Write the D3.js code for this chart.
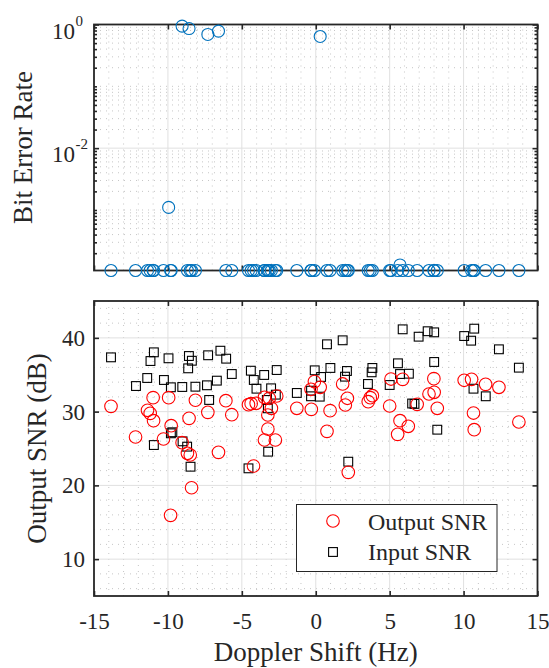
<!DOCTYPE html>
<html>
<head>
<meta charset="utf-8">
<script src="https://cdn.jsdelivr.net/npm/d3@7"></script>
<style>
  html, body { margin: 0; padding: 0; background: #fff; }
  svg { display: block; font-family: "Liberation Serif", "Times New Roman", serif; }
</style>
</head>
<body>
<div id="chart"></div>
<script>
// ---- data ----
// trials: doppler shift, output SNR and BER (0 = no bit errors, drawn on the floor)
const dopplerOut = [-13.85,-12.19,-11.38,-11.2,-11.0,-10.97,-10.3,-9.95,-9.82,-9.78,
  -9.04,-8.68,-8.57,-8.49,-8.4,-8.14,-7.3,-6.58,-6.08,-5.68,
  -4.55,-4.37,-4.21,-4.03,-3.47,-3.47,-3.24,-3.24,-3.14,-3.0,
  -2.73,-2.64,-1.28,-0.32,-0.3,-0.09,0.3,0.76,0.97,1.82,
  2.0,2.14,2.2,3.55,3.69,3.83,5.0,5.09,5.54,5.7,
  5.88,6.26,6.86,7.66,7.99,8.01,8.22,10.04,10.54,10.67,
  10.72,11.49,12.39,13.74];
const outputSNR = [30.72,26.56,30.18,29.77,31.89,28.77,26.29,31.89,15.94,28.09,
  25.79,24.35,29.09,24.12,19.68,31.54,29.9,24.48,31.48,29.58,
  30.94,31.08,22.63,31.13,31.94,26.15,29.54,27.64,31.81,30.45,
  26.15,32.12,30.45,33.03,30.31,34.07,33.3,27.33,30.13,33.75,
  30.9,31.81,21.77,31.35,31.89,32.16,30.76,34.42,26.92,28.77,
  34.38,28.01,30.99,32.39,34.47,32.62,30.45,34.25,34.38,29.81,
  27.55,33.7,33.3,28.59];
const ber = [0,0,0,0,0,0,0,1.1e-3,0,0,
  0.94,0,0.86,0,0,0,0.69,0.78,0,0,
  0,0,0,0,0,0,0,0,0,0,
  0,0,0,0,0,0,0.64,0,0,0,
  0,0,0,0,0,0,0,0,0,1.29e-4,
  0,0,0,0,0,0,0,0,0,0,
  0,0,0,0];

const dopplerIn = [-13.85,-12.16,-11.4,-11.18,-10.95,-10.95,-10.27,-9.96,-9.8,-9.8,
  -9.7,-9.03,-9.01,-8.7,-8.63,-8.58,-8.47,-8.38,-8.14,-7.36,
  -7.28,-7.21,-6.69,-6.45,-6.06,-5.68,-4.55,-4.39,-4.19,-4.01,
  -3.49,-3.31,-3.24,-3.22,-3.02,-2.7,-2.64,-1.28,-0.32,-0.32,
  -0.07,0.27,0.36,0.76,0.99,1.82,1.98,2.11,2.2,3.53,
  3.78,3.83,5.0,5.56,5.7,5.88,6.3,6.52,6.68,6.96,
  7.57,8.01,8.01,8.22,10.04,10.51,10.67,10.72,11.5,12.39,
  13.74];
const inputSNR = [37.36,33.47,34.56,36.86,38.04,25.47,34.29,37.23,33.3,27.06,
  27.2,33.34,25.97,25.25,35.87,37.54,22.53,36.9,33.38,33.57,
  37.64,31.58,34.2,38.26,37.18,35.1,22.31,35.55,34.29,33.11,
  34.97,31.58,30.45,24.57,33.16,32.3,35.64,32.53,32.84,32.08,
  35.6,32.03,34.7,39.13,35.92,39.67,34.74,35.51,23.21,33.75,
  35.33,35.92,33.61,36.55,35.1,41.16,35.14,31.1,31.05,40.16,
  40.9,40.75,36.73,27.55,40.25,39.62,33.11,41.25,32.08,38.45,
  35.96];

const xTicks = [-15, -10, -5, 0, 5, 10, 15];
const snrTicks = [10, 20, 30, 40];
const berTicks = [1, 1e-2];
const berTickExp = ["0", "-2"];
const berFloor = 1.05e-4;
const legendLabels = ["Output SNR", "Input SNR"];

// ---- layout ----
const W = 549, H = 668;
const L = 94, R = 537.5;
const top1 = 24.5, bot1 = 270.5;
const top2 = 301, bot2 = 596;
const AX = "#262626", MAJ = "#e0e0e0", MIN = "#c6c6c6";
const TICK_FS = 23, LABEL_FS = 27, LEG_FS = 24;
const FONT = '"Liberation Serif","Times New Roman",serif';

const svg = d3.select("#chart").append("svg").attr("width", W).attr("height", H);

const x = d3.scaleLinear().domain([-15, 15]).range([L, R]);
const yBer = d3.scaleLog().domain([berFloor, 1]).range([bot1, top1]);
const ySnr = d3.scaleLinear().domain([5, 45]).range([bot2, top2]);

const xMinor = d3.range(-14, 15).filter(v => v % 5 !== 0);
const snrMinor = d3.range(6, 45, 2).filter(v => v % 10 !== 0);
const berMinor = [];
for (let e = -4; e <= -1; e++) for (let m = 1; m <= 9; m++) {
  const v = m * Math.pow(10, e);
  if (v >= berFloor && !(e === -2 && m === 1)) berMinor.push(v);
}

function grid(g, y, yLo, yHi, xMaj, yMaj, yMin) {
  const gg = g.append("g");
  gg.selectAll("line.xmin").data(xMinor).enter().append("line")
    .attr("x1", d => x(d)).attr("x2", d => x(d)).attr("y1", yLo).attr("y2", yHi)
    .attr("stroke", MIN).attr("stroke-dasharray", "1,5").attr("stroke-width", 1);
  gg.selectAll("line.ymin").data(yMin).enter().append("line")
    .attr("x1", L).attr("x2", R).attr("y1", d => y(d)).attr("y2", d => y(d))
    .attr("stroke", MIN).attr("stroke-dasharray", "1,5").attr("stroke-width", 1);
  gg.selectAll("line.xmaj").data(xMaj).enter().append("line")
    .attr("x1", d => x(d)).attr("x2", d => x(d)).attr("y1", yLo).attr("y2", yHi)
    .attr("stroke", MAJ).attr("stroke-width", 1);
  gg.selectAll("line.ymaj").data(yMaj).enter().append("line")
    .attr("x1", L).attr("x2", R).attr("y1", d => y(d)).attr("y2", d => y(d))
    .attr("stroke", MAJ).attr("stroke-width", 1);
}

function frame(g, y, yLo, yHi, yVals, yMinVals) {
  // inward ticks on all four sides
  const t = 5, tm = 3;
  g.append("g").attr("transform", `translate(0,${yLo})`)
    .call(d3.axisBottom(x).tickValues(xTicks).tickSizeInner(-t).tickSizeOuter(0).tickFormat(""));
  g.append("g").attr("transform", `translate(0,${yHi})`)
    .call(d3.axisTop(x).tickValues(xTicks).tickSizeInner(-t).tickSizeOuter(0).tickFormat(""));
  g.append("g").attr("transform", `translate(${L},0)`)
    .call(d3.axisLeft(y).tickValues(yVals).tickSizeInner(-t).tickSizeOuter(0).tickFormat(""));
  g.append("g").attr("transform", `translate(${R},0)`)
    .call(d3.axisRight(y).tickValues(yVals).tickSizeInner(-t).tickSizeOuter(0).tickFormat(""));
  if (yMinVals) {
    g.append("g").attr("transform", `translate(${L},0)`)
      .call(d3.axisLeft(y).tickValues(yMinVals).tickSizeInner(-tm).tickSizeOuter(0).tickFormat(""));
    g.append("g").attr("transform", `translate(${R},0)`)
      .call(d3.axisRight(y).tickValues(yMinVals).tickSizeInner(-tm).tickSizeOuter(0).tickFormat(""));
  }
  g.selectAll(".domain").remove();
  g.selectAll(".tick line").attr("stroke", AX).attr("stroke-width", 1.6);
  g.append("rect").attr("x", L).attr("y", yHi).attr("width", R - L).attr("height", yLo - yHi)
    .attr("fill", "none").attr("stroke", AX).attr("stroke-width", 1.8);
}

// ---------- top panel: BER ----------
const g1 = svg.append("g");
grid(g1, yBer, bot1, top1, xTicks.slice(1, -1), [1e-2], berMinor);
frame(g1, yBer, bot1, top1, berTicks, berMinor);

const berLab = g1.append("g").attr("fill", AX);
berTicks.forEach((v, i) => {
  berLab.append("text").attr("x", 75).attr("y", yBer(v) + 14)
    .attr("text-anchor", "end").attr("font-size", TICK_FS).text("10");
  berLab.append("text").attr("x", 75.5).attr("y", yBer(v) + 1)
    .attr("font-size", 15).text(berTickExp[i]);
});

const berPts = dopplerOut.map((d, i) => ({ x: d, v: ber[i] > 0 ? ber[i] : berFloor }));
g1.append("g").selectAll("circle").data(berPts).enter().append("circle")
  .attr("cx", d => x(d.x)).attr("cy", d => yBer(d.v)).attr("r", 6)
  .attr("fill", "none").attr("stroke", "#0072BD").attr("stroke-width", 1.1);

g1.append("text").attr("transform", `translate(32,${(top1 + bot1) / 2}) rotate(-90)`)
  .attr("text-anchor", "middle").attr("font-size", LABEL_FS).attr("fill", AX)
  .text("Bit Error Rate");

// ---------- bottom panel: SNR ----------
const g2 = svg.append("g");
grid(g2, ySnr, bot2, top2, xTicks.slice(1, -1), snrTicks, snrMinor);
frame(g2, ySnr, bot2, top2, snrTicks, null);

g2.append("g").attr("transform", `translate(0,${bot2})`)
  .call(d3.axisBottom(x).tickValues(xTicks).tickSize(0).tickPadding(17).tickFormat(d => String(d)))
  .call(a => a.select(".domain").remove())
  .selectAll("text").attr("font-size", TICK_FS).attr("fill", AX).attr("font-family", FONT);

g2.append("g").attr("transform", `translate(${L},0)`)
  .call(d3.axisLeft(ySnr).tickValues(snrTicks).tickSize(0).tickPadding(9).tickFormat(d => String(d)))
  .call(a => a.select(".domain").remove())
  .selectAll("text").attr("font-size", TICK_FS).attr("fill", AX).attr("font-family", FONT);

g2.append("g").selectAll("rect").data(dopplerIn).enter().append("rect")
  .attr("x", (d) => x(d) - 4.4).attr("y", (d, i) => ySnr(inputSNR[i]) - 4.4)
  .attr("width", 8.8).attr("height", 8.8)
  .attr("fill", "none").attr("stroke", "#000").attr("stroke-width", 1.1);

g2.append("g").selectAll("circle").data(dopplerOut).enter().append("circle")
  .attr("cx", d => x(d)).attr("cy", (d, i) => ySnr(outputSNR[i])).attr("r", 6.3)
  .attr("fill", "none").attr("stroke", "#ff0000").attr("stroke-width", 1.1);

g2.append("text").attr("transform", `translate(46,${(top2 + bot2) / 2}) rotate(-90)`)
  .attr("text-anchor", "middle").attr("font-size", LABEL_FS).attr("fill", AX)
  .text("Output SNR (dB)");

svg.append("text").attr("x", x(0)).attr("y", 661)
  .attr("text-anchor", "middle").attr("font-size", LABEL_FS).attr("fill", AX)
  .text("Doppler Shift (Hz)");

// ---------- legend ----------
const lg = svg.append("g");
lg.append("rect").attr("x", 296.5).attr("y", 504.5).attr("width", 200.5).attr("height", 67)
  .attr("fill", "#fff").attr("stroke", AX).attr("stroke-width", 1);
lg.append("circle").attr("cx", 333).attr("cy", 521).attr("r", 6.3)
  .attr("fill", "none").attr("stroke", "#ff0000").attr("stroke-width", 1.1);
lg.append("rect").attr("x", 333 - 4.4).attr("y", 552 - 4.4).attr("width", 8.8).attr("height", 8.8)
  .attr("fill", "none").attr("stroke", "#000").attr("stroke-width", 1.1);
lg.selectAll("text").data(legendLabels).enter().append("text")
  .attr("x", 368).attr("y", (d, i) => 530 + i * 30)
  .attr("font-size", LEG_FS).attr("fill", AX).text(d => d);
</script>
</body>
</html>
